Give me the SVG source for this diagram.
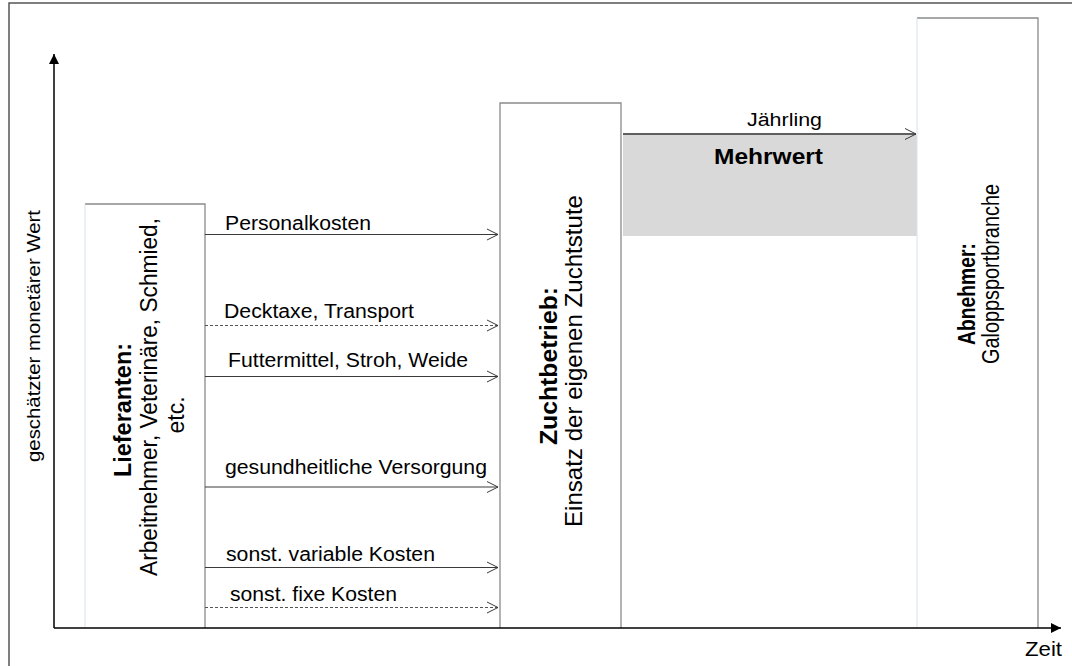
<svg xmlns="http://www.w3.org/2000/svg" width="1072" height="666" viewBox="0 0 1072 666">
<style>
text{font-family:"Liberation Sans",Arial,sans-serif;fill:#000}
.lbl{font-size:20px}
.b{font-weight:bold}
.edge{fill:none;stroke:#8a8a8a;stroke-width:1.3}
.light{fill:none;stroke:#d6e3ee;stroke-width:1}
.conn{stroke:#3a3a3a;stroke-width:1;fill:none}
.dash{stroke:#555;stroke-width:1;stroke-dasharray:3 2;fill:none}
</style>
<defs>
<marker id="open" markerUnits="userSpaceOnUse" markerWidth="14" markerHeight="14" refX="12" refY="6" orient="auto" overflow="visible">
<path d="M1,0.5 L12,6 L1,11.5" fill="none" stroke="#3a3a3a" stroke-width="1"/>
</marker>
<marker id="solid" markerUnits="userSpaceOnUse" markerWidth="12" markerHeight="12" refX="10" refY="5" orient="auto" overflow="visible">
<path d="M0,0 L10,5 L0,10 Z" fill="#000"/>
</marker>
</defs>
<rect x="0" y="0" width="1072" height="666" fill="#fff"/>
<path d="M9,670 L9,3 L1075,3" fill="none" stroke="#555" stroke-width="1.5"/>

<g id="mehrwert">
<rect x="623" y="135" width="294" height="101" fill="#d9d9d9"/>
<text class="b" x="714" y="164" font-size="22" textLength="109" lengthAdjust="spacingAndGlyphs">Mehrwert</text>
</g>

<g id="lieferanten">
<rect x="85" y="204" width="120" height="424" fill="#fff"/>
<path class="edge" d="M85,204 L205,204 L205,628"/>
<path class="light" d="M85,204 L85,628"/>
<text class="b" font-size="23" text-anchor="middle" transform="translate(131,410) rotate(-90)" textLength="134" lengthAdjust="spacingAndGlyphs">Lieferanten:</text>
<text font-size="23" text-anchor="middle" transform="translate(157,397) rotate(-90)" textLength="358" lengthAdjust="spacingAndGlyphs">Arbeitnehmer, Veterinäre, Schmied,</text>
<text font-size="23" text-anchor="middle" transform="translate(184,415) rotate(-90)">etc.</text>
</g>

<g id="zuchtbetrieb">
<rect x="500" y="103" width="121" height="525" fill="#fff"/>
<path class="edge" d="M500,628 L500,103 L621,103 L621,628"/>
<text class="b" font-size="24" text-anchor="middle" transform="translate(557,366) rotate(-90)" textLength="158" lengthAdjust="spacingAndGlyphs">Zuchtbetrieb:</text>
<text font-size="24" text-anchor="middle" transform="translate(582,361) rotate(-90)" textLength="332" lengthAdjust="spacingAndGlyphs">Einsatz der eigenen Zuchtstute</text>
</g>

<g id="abnehmer">
<rect x="917" y="18" width="121" height="610" fill="#fff"/>
<path class="edge" d="M917,18 L1038,18 L1038,628"/>
<path class="light" d="M917,18 L917,628"/>
<text class="b" font-size="23" text-anchor="middle" transform="translate(975,294) rotate(-90)" textLength="102" lengthAdjust="spacingAndGlyphs">Abnehmer:</text>
<text font-size="23" text-anchor="middle" transform="translate(999,274) rotate(-90)" textLength="180" lengthAdjust="spacingAndGlyphs">Galoppsportbranche</text>
</g>

<g id="axes">
<line x1="54" y1="628" x2="54" y2="54" stroke="#000" stroke-width="1.5" marker-end="url(#solid)"/>
<line x1="54" y1="628" x2="1061" y2="628" stroke="#000" stroke-width="1.5" marker-end="url(#solid)"/>
<text font-size="19" text-anchor="middle" transform="translate(40,336) rotate(-90)" textLength="252" lengthAdjust="spacingAndGlyphs">geschätzter monetärer Wert</text>
<text x="1025" y="656" font-size="21" textLength="37" lengthAdjust="spacingAndGlyphs">Zeit</text>
</g>

<g id="connectors">
<line class="conn" x1="205" y1="234.5" x2="498" y2="234.5" marker-end="url(#open)"/>
<line class="dash" x1="205" y1="325.5" x2="498" y2="325.5" marker-end="url(#open)"/>
<line class="conn" x1="205" y1="376.5" x2="498" y2="376.5" marker-end="url(#open)"/>
<line class="conn" x1="205" y1="487" x2="498" y2="487" marker-end="url(#open)"/>
<line class="conn" x1="205" y1="567.5" x2="498" y2="567.5" marker-end="url(#open)"/>
<line class="dash" x1="205" y1="607.5" x2="498" y2="607.5" marker-end="url(#open)"/>
<line x1="623" y1="134" x2="916" y2="134" stroke="#2a2a2a" stroke-width="1.5" marker-end="url(#open)"/>
<text class="lbl" x="225" y="230" textLength="146" lengthAdjust="spacingAndGlyphs">Personalkosten</text>
<text class="lbl" x="224" y="318" textLength="190" lengthAdjust="spacingAndGlyphs">Decktaxe, Transport</text>
<text class="lbl" x="228" y="367" textLength="240" lengthAdjust="spacingAndGlyphs">Futtermittel, Stroh, Weide</text>
<text class="lbl" x="225" y="474" textLength="262" lengthAdjust="spacingAndGlyphs">gesundheitliche Versorgung</text>
<text class="lbl" x="226" y="561" textLength="209" lengthAdjust="spacingAndGlyphs">sonst. variable Kosten</text>
<text class="lbl" x="230" y="601" textLength="167" lengthAdjust="spacingAndGlyphs">sonst. fixe Kosten</text>
<text x="747" y="126" font-size="18" textLength="75" lengthAdjust="spacingAndGlyphs">Jährling</text>
</g>
</svg>
